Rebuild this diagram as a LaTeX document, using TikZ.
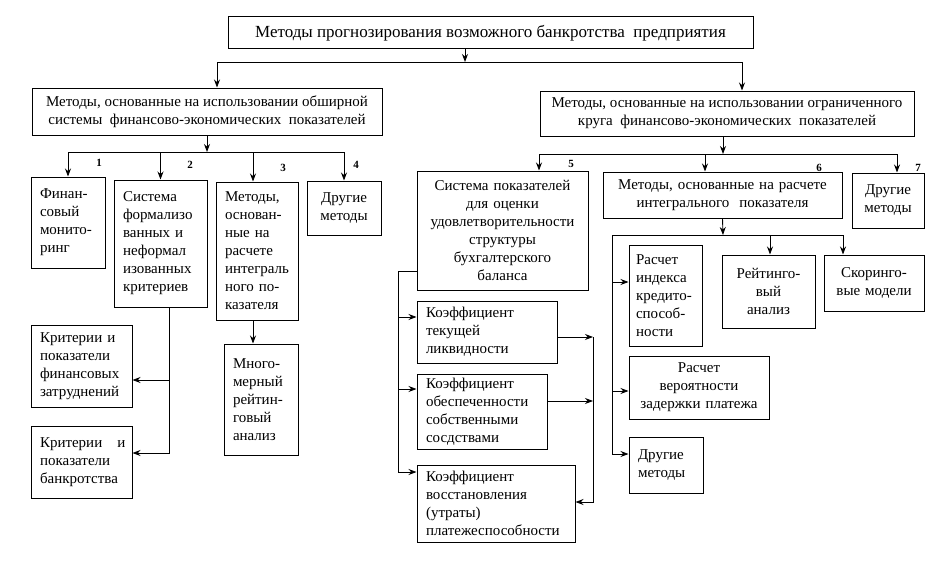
\documentclass[tikz,border=0pt]{standalone}
\usepackage{fontspec}
\setmainfont{Liberation Serif}
\usepackage{tikz}
\usetikzlibrary{arrows.meta,calc}

\begin{document}
\begin{tikzpicture}[x=1pt,y=-1pt,
    >={Stealth[length=8pt,width=6pt]},
    every path/.style={line width=0.9pt},
    box/.style={draw, line width=1pt, inner xsep=9pt, inner ysep=0pt,
        font=\fontsize{15}{18}\selectfont},
    num/.style={font=\fontsize{11}{12}\selectfont\bfseries}]
    \useasboundingbox (0,0) rectangle (936,578);

    % top and second level
    \node[box, minimum width=525pt, minimum height=32pt, font=\fontsize{17}{20}\selectfont] (top) at (490.5,33)
        {Методы прогнозирования возможного банкротства~ предприятия};
    \node[box, minimum width=350pt, minimum height=47pt, align=center] (L1) at (207,111.5)
        {Методы, основанные на использовании обширной\\системы~ финансово-экономических~ показателей};
    \node[box, minimum width=374pt, minimum height=45pt, align=center] (R1) at (727,113.5)
        {Методы, основанные на использовании ограниченного\\круга~ финансово-экономических~ показателей};

    % left group
    \node[box, text width=56pt, minimum height=91pt, align=left] (B1) at (68,222.5)
        {Финан-\\совый\\монито-\\ринг};
    \node[box, text width=75pt, minimum height=127pt, align=left] (B2) at (160.5,243.5)
        {Система\\формализо\\ванных и\\неформал\\изованных\\критериев};
    \node[box, text width=64pt, minimum height=138pt, align=left] (B3) at (257,251)
        {Методы,\\основан-\\ные на\\расчете\\интеграль\\ного по-\\казателя};
    \node[box, text width=56pt, minimum height=54pt, align=center] (B4) at (344,208)
        {Другие\\методы};
    \node[box, text width=83pt, minimum height=82pt, align=left] (C1) at (81.5,366)
        {Критерии и\\показатели\\финансовых\\затруднений};
    \node[box, text width=83pt, minimum height=72pt, align=left] (C2) at (81.5,462)
        {Критерии~~ и\\показатели\\банкротства};
    \node[box, text width=56pt, minimum height=111pt, align=left] (C3) at (261,399.5)
        {Много-\\мерный\\рейтин-\\говый\\анализ};

    \node[num] (n1) at (99,163) {1};
    \node[num] (n2) at (190,165) {2};
    \node[num] (n3) at (283,168) {3};
    \node[num] (n4) at (356,165) {4};

    % right group
    \node[box, text width=153pt, minimum height=119pt, align=center] (D5) at (502.5,230.5)
        {Система показателей\\для оценки\\удовлетворительности\\структуры\\бухгалтерского\\баланса};
    \node[box, text width=221pt, minimum height=46pt, align=center] (D6) at (722.5,195)
        {Методы, основанные на расчете\\интегрального~ показателя};
    \node[box, text width=54pt, minimum height=55pt, align=center] (D7) at (888,200.5)
        {Другие\\методы};
    \node[box, inner xsep=7pt, text width=59pt, minimum height=101pt, align=left] (E1) at (665.5,295.5)
        {Расчет\\индекса\\\mbox{кредито-}\\\mbox{способ-}\\ности};
    \node[box, text width=75pt, minimum height=73pt, align=center] (F1) at (768.5,291.5)
        {Рейтинго-\\вый\\анализ};
    \node[box, text width=82pt, minimum height=56pt, align=center] (F2) at (874,283)
        {Скоринго-\\вые модели};
    \node[box, text width=122pt, minimum height=63pt, align=center] (E2) at (699,387.5)
        {Расчет\\вероятности\\задержки платежа};
    \node[box, text width=56pt, minimum height=56pt, align=left] (E3) at (666,465)
        {Другие\\методы};
    \node[box, text width=122pt, minimum height=62pt, align=left] (K1) at (487,332)
        {Коэффициент\\текущей\\ликвидности};
    \node[box, text width=112pt, minimum height=75pt, align=left] (K2) at (482,411.5)
        {Коэффициент\\обеспеченности\\собственными\\сосдствами};
    \node[box, text width=140pt, minimum height=77pt, align=left] (K3) at (496,503.5)
        {Коэффициент\\восстановления\\(утраты)\\платежеспособности};

    \node[num] (n5) at (571,164) {5};
    \node[num] (n6) at (819,168) {6};
    \node[num] (n7) at (918,168) {7};

    % connectors
    \coordinate (j0) at (465,62);
    \draw[->] (top.south -| j0) -- (j0);
    \draw[->] (j0) -| ([xshift=10pt]L1.north);
    \draw[->] (j0) -| ([xshift=15pt]R1.north);

    \coordinate (j1) at (207,152);
    \draw[->] (L1.south) -- (j1);
    \draw[->] (j1) -| (B1.north);
    \draw[->] (j1) -| (B2.north);
    \draw[->] (j1) -| ([xshift=-4pt]B3.north);
    \draw[->] (j1) -| (B4.north);
    \draw[->] ([xshift=8.5pt]B2.south) |- ([yshift=-14pt]C1.east);
    \draw[->] ([xshift=8.5pt]B2.south) |- ([yshift=9pt]C2.east);
    \draw[->] ([xshift=-4pt]B3.south) -- ([xshift=-8pt]C3.north);

    \coordinate (j2) at (723,154);
    \draw[->] ([xshift=-4pt]R1.south) -- (j2);
    \draw[->] (j2) -| ([xshift=36.5pt]D5.north);
    \draw[->] (j2) -| ([xshift=-17.5pt]D6.north);
    \draw[->] (j2) -| ([xshift=9pt]D7.north);

    \coordinate (j3) at (723,235);
    \coordinate (j4) at (612,235);
    \draw[->] (D6.south) -- (j3);
    \draw[->] (j3) -| ([xshift=1.5pt]F1.north);
    \draw[->] (j3) -| ([xshift=-31pt]F2.north);
    \draw[->] (j3) -- (j4) |- ([yshift=13.5pt]E1.west);
    \draw[->] (j4) |- ([yshift=-3.5pt]E2.west);
    \draw[->] (j4) |- ([yshift=11pt]E3.west);

    \coordinate (j5) at (398,271);
    \draw (D5.west |- j5) -- (j5);
    \draw[->] (j5) |- ([yshift=15pt]K1.west);
    \draw[->] (j5) |- ([yshift=22.5pt]K2.west);
    \draw[->] (j5) |- ([yshift=31.5pt]K3.west);

    \coordinate (j6) at (593,337);
    \coordinate (j7) at (593,401);
    \coordinate (j8) at (593,502);
    \draw[->] ([yshift=-5pt]K1.east) -- (j6);
    \draw[->] ([yshift=10.5pt]K2.east) -- (j7);
    \draw[->] (j6) -- (j8) -- ([yshift=1.5pt]K3.east);
\end{tikzpicture}
\end{document}
